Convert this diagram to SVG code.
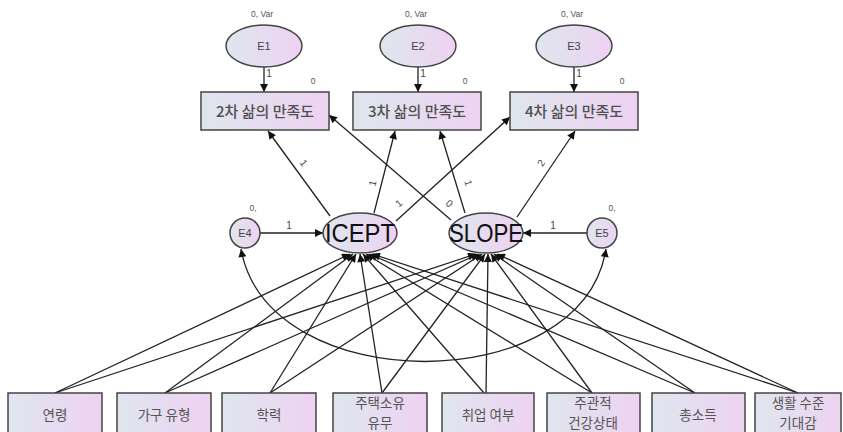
<svg xmlns="http://www.w3.org/2000/svg" width="843" height="432" viewBox="0 0 843 432">
<defs>
<linearGradient id="g" x1="0" y1="0" x2="1" y2="0">
<stop offset="0" stop-color="#dfe6ee"/>
<stop offset="1" stop-color="#eed2f2"/>
</linearGradient>
<marker id="ah" viewBox="0 0 10 10" refX="10" refY="5" markerWidth="11" markerHeight="8" markerUnits="userSpaceOnUse" orient="auto-start-reverse">
<path d="M0,0 L10,5 L0,10 z" fill="#111"/>
</marker>
<style>
.box{fill:url(#g);stroke:#444;stroke-width:1.5}
.el{fill:url(#g);stroke:#444;stroke-width:1.5}
.kt{font-family:"Noto Sans CJK KR","Noto Sans",sans-serif;font-size:15px;font-weight:500;fill:#505050;text-anchor:middle}
.kb{font-family:"Noto Sans CJK KR","Noto Sans",sans-serif;font-size:13.5px;fill:#555;text-anchor:middle}
.et{font-family:"Liberation Sans",Arial,sans-serif;font-size:11px;fill:#444;text-anchor:middle}
.sm{font-family:"Liberation Sans",Arial,sans-serif;font-size:8.5px;fill:#555;text-anchor:middle}
.lb{font-family:"Liberation Sans",Arial,sans-serif;font-size:10px;fill:#444;text-anchor:middle}
.big{font-family:"Liberation Sans",Arial,sans-serif;font-size:25px;fill:#111;text-anchor:middle}
.c{fill:none;stroke:#222;stroke-width:1.3}
</style>
</defs>
<rect width="843" height="432" fill="#fff"/>

<g id="connectors">
<line class="c" x1="264" y1="67" x2="264" y2="92" marker-end="url(#ah)"/>
<line class="c" x1="418" y1="67" x2="418" y2="92" marker-end="url(#ah)"/>
<line class="c" x1="574" y1="67" x2="574" y2="92" marker-end="url(#ah)"/>
<line class="c" x1="330" y1="216" x2="268" y2="131" marker-end="url(#ah)"/>
<line class="c" x1="374" y1="213" x2="395" y2="131" marker-end="url(#ah)"/>
<line class="c" x1="396" y1="221" x2="510" y2="117" marker-end="url(#ah)"/>
<line class="c" x1="451" y1="220" x2="329" y2="115" marker-end="url(#ah)"/>
<line class="c" x1="465" y1="213" x2="440" y2="131" marker-end="url(#ah)"/>
<line class="c" x1="517" y1="217" x2="575" y2="131" marker-end="url(#ah)"/>
<line class="c" x1="260" y1="233" x2="323" y2="233" marker-end="url(#ah)"/>
<line class="c" x1="587" y1="233" x2="523" y2="233" marker-end="url(#ah)"/>
<path class="c" d="M241,249 C268,399 582,399 606,249" marker-start="url(#ah)" marker-end="url(#ah)"/>
<line class="c" x1="55" y1="393" x2="350" y2="254" marker-end="url(#ah)"/>
<line class="c" x1="165" y1="393" x2="353" y2="254" marker-end="url(#ah)"/>
<line class="c" x1="270" y1="393" x2="356" y2="254" marker-end="url(#ah)"/>
<line class="c" x1="382" y1="393" x2="360" y2="254" marker-end="url(#ah)"/>
<line class="c" x1="484" y1="393" x2="363" y2="254" marker-end="url(#ah)"/>
<line class="c" x1="592" y1="393" x2="366" y2="254" marker-end="url(#ah)"/>
<line class="c" x1="695" y1="393" x2="369" y2="254" marker-end="url(#ah)"/>
<line class="c" x1="798" y1="393" x2="372" y2="254" marker-end="url(#ah)"/>
<line class="c" x1="55" y1="393" x2="476" y2="254" marker-end="url(#ah)"/>
<line class="c" x1="165" y1="393" x2="479" y2="254" marker-end="url(#ah)"/>
<line class="c" x1="270" y1="393" x2="482" y2="254" marker-end="url(#ah)"/>
<line class="c" x1="382" y1="393" x2="485" y2="254" marker-end="url(#ah)"/>
<line class="c" x1="486" y1="393" x2="488" y2="254" marker-end="url(#ah)"/>
<line class="c" x1="592" y1="393" x2="491" y2="254" marker-end="url(#ah)"/>
<line class="c" x1="695" y1="393" x2="494" y2="254" marker-end="url(#ah)"/>
<line class="c" x1="798" y1="393" x2="497" y2="254" marker-end="url(#ah)"/>
<text class="lb" x="269" y="77">1</text>
<text class="lb" x="423" y="77">1</text>
<text class="lb" x="579" y="77">1</text>
<text class="lb" transform="translate(301,165) rotate(54)">1</text>
<text class="lb" transform="translate(376,184) rotate(-76)">1</text>
<text class="lb" transform="translate(401,206) rotate(-42)">1</text>
<text class="lb" transform="translate(447,206) rotate(41)">0</text>
<text class="lb" transform="translate(465,184) rotate(73)">1</text>
<text class="lb" transform="translate(544,165) rotate(-56)">2</text>
<text class="lb" x="289" y="229">1</text>
<text class="lb" x="553" y="229">1</text>
</g>

<g id="E1"><ellipse class="el" cx="264" cy="46" rx="38" ry="21"/><text class="et" x="264" y="50">E1</text><text class="sm" x="262" y="17">0, Var</text></g>
<g id="E2"><ellipse class="el" cx="418" cy="46" rx="38" ry="21"/><text class="et" x="418" y="50">E2</text><text class="sm" x="416" y="17">0, Var</text></g>
<g id="E3"><ellipse class="el" cx="574" cy="46" rx="38" ry="21"/><text class="et" x="574" y="50">E3</text><text class="sm" x="572" y="17">0, Var</text></g>

<g id="Y2"><rect class="box" x="201" y="92" width="128" height="38"/><text class="kt" x="265" y="117">2차 삶의 만족도</text><text class="sm" x="313" y="84">0</text></g>
<g id="Y3"><rect class="box" x="353" y="92" width="128" height="38"/><text class="kt" x="417" y="117">3차 삶의 만족도</text><text class="sm" x="465" y="84">0</text></g>
<g id="Y4"><rect class="box" x="510" y="92" width="128" height="38"/><text class="kt" x="574" y="117">4차 삶의 만족도</text><text class="sm" x="622" y="84">0</text></g>

<g id="E4"><circle class="el" cx="245" cy="233" r="15"/><text class="et" x="245" y="237">E4</text><text class="sm" x="253" y="211">0,</text></g>
<g id="E5"><circle class="el" cx="602" cy="233" r="15"/><text class="et" x="602" y="237">E5</text><text class="sm" x="612" y="211">0,</text></g>

<g id="ICEPT"><ellipse class="el" cx="360" cy="233" rx="37" ry="20"/><text class="big" x="360" y="242" textLength="70" lengthAdjust="spacingAndGlyphs">ICEPT</text></g>
<g id="SLOPE"><ellipse class="el" cx="486" cy="233" rx="37" ry="20"/><text class="big" x="486" y="242" textLength="74" lengthAdjust="spacingAndGlyphs">SLOPE</text></g>

<g id="X1"><rect class="box" x="8" y="393" width="94" height="45"/><text class="kb" x="55" y="420">연령</text></g>
<g id="X2"><rect class="box" x="117" y="393" width="94" height="45"/><text class="kb" x="164" y="420">가구 유형</text></g>
<g id="X3"><rect class="box" x="222" y="393" width="94" height="45"/><text class="kb" x="269" y="420">학력</text></g>
<g id="X4"><rect class="box" x="333" y="393" width="94" height="45"/><text class="kb" x="380" y="408">주택소유</text><text class="kb" x="380" y="428">유무</text></g>
<g id="X5"><rect class="box" x="442" y="393" width="92" height="45"/><text class="kb" x="488" y="420">취업 여부</text></g>
<g id="X6"><rect class="box" x="547" y="393" width="93" height="45"/><text class="kb" x="593" y="408">주관적</text><text class="kb" x="593" y="428">건강상태</text></g>
<g id="X7"><rect class="box" x="652" y="393" width="93" height="45"/><text class="kb" x="698" y="420">총소득</text></g>
<g id="X8"><rect class="box" x="755" y="393" width="86" height="45"/><text class="kb" x="798" y="408">생활 수준</text><text class="kb" x="798" y="428">기대감</text></g>
</svg>
